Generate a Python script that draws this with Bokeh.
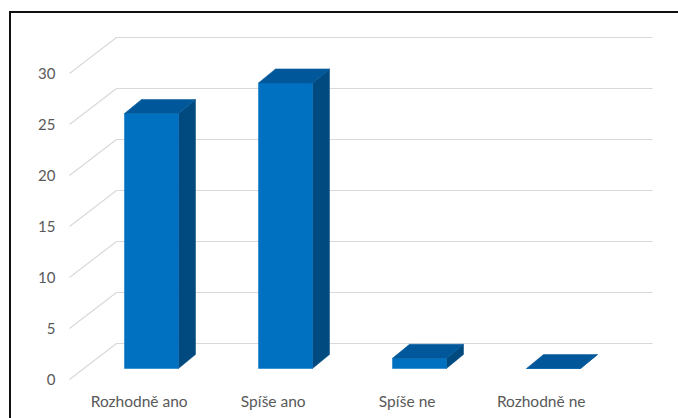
from bokeh.plotting import figure
from bokeh.models import Range1d
from bokeh.core.properties import value
from bokeh.embed import file_html
from bokeh.resources import INLINE

# ---- data ----
categories = ["Rozhodně ano", "Spíše ano", "Spíše ne", "Rozhodně ne"]
counts = [25, 28, 1, 0]
y_ticks = [0, 5, 10, 15, 20, 25, 30]

# ---- 3D styling constants (in data units) ----
WALL_DX, WALL_DY = 0.3507, 3.53      # full depth of the floor / side wall
BAR_DX, BAR_DY = 0.127, 1.373        # depth of each column
BAR_HALF = 0.2015                    # half width of column front face
SHIFT_X = (WALL_DX - BAR_DX) / 2     # columns sit in middle of the depth
SHIFT_Y = (WALL_DY - BAR_DY) / 2

FRONT = "#0070C0"
TOP = "#00589B"
SIDE = "#004A80"
GRID = "#D9D9D9"
TXT = "#595959"
FONT = "Lato"

W, H = 678, 418
X0, X1 = -0.5149, 4.5448
Y0, Y1 = -3.824, 37.157
p = figure(width=W, height=H, output_backend="svg", toolbar_location=None,
           x_range=Range1d(X0, X1), y_range=Range1d(Y0, Y1),
           min_border=0, min_border_left=0, min_border_right=0,
           min_border_top=0, min_border_bottom=0,
           x_axis_location=None, y_axis_location=None)
p.grid.visible = False
p.outline_line_color = None
p.background_fill_color = "white"
p.border_fill_color = "white"

n = len(categories)

# gridlines: side wall diagonal + back wall horizontal
gx, gy = [], []
for t in y_ticks:
    gx.append([0, WALL_DX, n + WALL_DX])
    gy.append([t, t + WALL_DY, t + WALL_DY])
p.multi_line(xs=gx, ys=gy, line_color=GRID, line_width=1.2)

# y tick labels
p.text(x=[-0.1045] * len(y_ticks), y=y_ticks, text=[str(t) for t in y_ticks],
       text_align="right", text_baseline="middle", text_color=TXT,
       text_font=value(FONT), text_font_size="15px")

# columns
fl, fr, fb, ft = [], [], [], []
sx, sy, tx, ty = [], [], [], []
for i, v in enumerate(counts):
    c = i + 0.5 + SHIFT_X
    xl, xr = c - BAR_HALF, c + BAR_HALF
    b, t = SHIFT_Y, v + SHIFT_Y
    fl.append(xl); fr.append(xr); fb.append(b); ft.append(t)
    sx.append([xr, xr + BAR_DX, xr + BAR_DX, xr])
    sy.append([b, b + BAR_DY, t + BAR_DY, t])
    tx.append([xl, xr, xr + BAR_DX, xl + BAR_DX])
    ty.append([t, t, t + BAR_DY, t + BAR_DY])

p.patches(xs=sx, ys=sy, fill_color=SIDE, line_color=SIDE, line_width=0.5)
p.quad(left=fl, right=fr, bottom=fb, top=ft, fill_color=FRONT,
       line_color=FRONT, line_width=0.5)
p.patches(xs=tx, ys=ty, fill_color=TOP, line_color=TOP, line_width=0.5)

# category labels
p.text(x=[i + 0.52 for i in range(n)], y=[-2.12] * n, text=categories,
       text_align="center", text_baseline="middle", text_color=TXT,
       text_font=value(FONT), text_font_size="15.5px")

# chart border (left and top edges of the chart area are visible)
BL, BT = -0.444, 36.03
p.line(x=[BL, BL, X1], y=[Y0, BT, BT], line_color="#111111", line_width=2,
       line_join="miter")

open("out.html", "w").write(file_html(p, INLINE))
